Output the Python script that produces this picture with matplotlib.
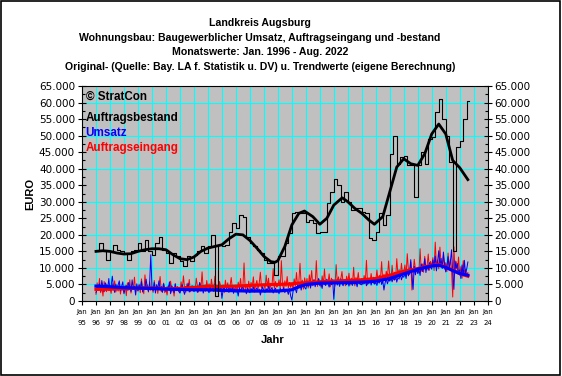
import numpy as np
import matplotlib
matplotlib.use("Agg")
import matplotlib.pyplot as plt
from matplotlib.patches import Rectangle
from matplotlib.ticker import FuncFormatter, MultipleLocator

# Auftragsbestand, quarterly values (1996 Q1 .. 2022 Q3)
bestand_q = [
    15500, 17500, 15000, 12500,   # 1996
    15000, 17000, 15500, 15000,   # 1997
    14500, 12500, 15000, 15500,   # 1998
    17500, 15000, 18500, 15000,   # 1999
    14000, 17500, 19500, 15500,   # 2000
    14500, 11500, 14500, 13500,   # 2001
    12000, 10500, 13500, 12000,   # 2002
    14000, 15000, 16500, 14500,   # 2003
    16500, 20000, 1500, 17000,    # 2004
    16500, 17000, 21000, 23500,   # 2005
    22000, 26000, 25500, 19500,   # 2006
    17500, 16500, 15500, 14500,   # 2007
    12500, 11500, 11500, 8000,    # 2008
    13500, 13500, 17500, 20500,   # 2009
    26500, 27000, 26500, 26500,   # 2010
    24000, 24500, 23500, 20500,   # 2011
    21000, 21000, 29500, 33000,   # 2012
    37000, 35000, 30000, 33000,   # 2013
    30000, 27500, 28000, 28000,   # 2014
    27000, 26500, 19000, 18500,   # 2015
    21000, 26500, 23000, 26000,   # 2016
    44500, 50000, 41500, 43500,   # 2017
    43700, 41000, 41000, 31500,   # 2018
    41000, 45000, 41500, 49000,   # 2019
    49500, 57000, 61000, 55000,   # 2020
    50000, 42000, 15000, 46500,   # 2021
    48500, 55000, 60500,          # 2022
]

# Trend Auftragsbestand (time in years, value)
bestand_trend_t = [1996.0, 1996.5, 1997.0, 1997.5, 1998.0, 1998.5, 1999.0, 1999.5,
                   2000.0, 2000.5, 2001.0, 2001.5, 2002.0, 2002.5, 2003.0, 2003.5,
                   2004.0, 2004.5, 2005.0, 2005.5, 2006.0, 2006.5, 2007.0, 2007.5,
                   2008.0, 2008.5, 2008.8, 2009.0, 2009.5, 2010.0, 2010.5, 2010.9,
                   2011.5, 2012.0, 2012.5, 2013.0, 2013.6, 2014.0, 2014.5, 2015.0,
                   2015.5, 2015.9, 2016.5, 2017.0, 2017.5, 2018.0, 2018.5, 2019.0,
                   2019.5, 2020.0, 2020.5, 2021.0, 2021.5, 2022.0, 2022.58]
bestand_trend_v = [15000, 15200, 15000, 14500, 14200, 14300, 15000, 15500,
                   15800, 15800, 15500, 14000, 12800, 12500, 13300, 15000,
                   16000, 16500, 17000, 18800, 20200, 20000, 18300, 16000,
                   13500, 11900, 11700, 12200, 16500, 23000, 26500, 27200,
                   25500, 23200, 25000, 29000, 31200, 30000, 28000, 26500,
                   24500, 23200, 25500, 33000, 40500, 43000, 41500, 41000,
                   44500, 50500, 53500, 50500, 42500, 40300, 36700]

# Umsatz, monthly values (Jan 1996 .. Aug 2022)
umsatz = [
    2500, 3800, 4500, 5200, 3000, 6200, 4100, 2800, 5500, 4800, 3600, 6800,
    3200, 4600, 7500, 4200, 2600, 5100, 3800, 4900, 6100, 3100, 4400, 5800,
    2200, 3900, 4700, 3300, 5600, 4200, 2900, 6400, 3700, 4500, 1800, 5200,
    3100, 4800, 3600, 5900, 2700, 4300, 3500, 6600, 4100, 2900, 5300, 14000,
    4200, 3100, 5600, 2400, 4700, 3900, 6100, 3300, 4400, 2600, 5200, 3700,
    2900, 4300, 3500, 5800, 2200, 4600, 3800, 2500, 5100, 3400, 4100, 3000,
    2400, 3700, 4900, 3100, 2000, 4400, 3300, 5400, 2700, 3900, 3200, 4600,
    2800, 3500, 4200, 2600, 3900, 5600, 3000, 4300, 2400, 3700, 4800, 3400,
    3100, 2500, 4600, 3300, 3800, 2900, 5200, 3500, 4100, 2700, 3600, 4400,
    800, 3200, 4500, 2900, 3600, 4800, 2600, 3900, 3300, 4200, 2300, 3700,
    2700, 3400, 1500, 4100, 3000, 3700, 4600, 2800, 3500, 2200, 3900, 3200,
    2500, 3800, 3100, 4400, 2700, 3300, 4000, 2900, 3600, 1800, 3400, 4200,
    3000, 2600, 3700, 3200, 4500, 2800, 3500, 4100, 2400, 3300, 3900, 2700,
    3400, 2200, 3800, 2900, 3300, 4000, 2500, 3600, 3100, 2000, 3700, 1500,
    300, 2800, 4200, 3600, 2500, 4600, 3900, 5200, 3300, 4800, 5500, 4100,
    3600, 5200, 4400, 6100, 3900, 5700, 4800, 6500, 4300, 5900, 5000, 6800,
    4600, 5400, 3800, 6200, 5100, 4700, 6600, 5300, 4200, 5800, 4900, 6400,
    500, 5500, 6300, 4800, 5900, 4400, 6700, 5200, 4600, 6100, 5400, 4900,
    5800, 4500, 6000, 5300, 4700, 6500, 5100, 5700, 4300, 6200, 5600, 5000,
    4900, 5900, 5200, 6400, 4600, 5800, 5300, 6800, 4800, 6000, 5500, 5100,
    5600, 4700, 6300, 5400, 6900, 5000, 6100, 3300, 5500, 6600, 5200, 6400,
    6000, 7400, 5800, 6900, 6300, 7800, 5700, 7100, 6600, 8200, 6400, 7500,
    7200, 8400, 6800, 9200, 7600, 8800, 12500, 7400, 3500, 10500, 7900, 9800,
    8300, 9600, 7700, 11200, 8900, 10100, 12800, 8600, 10700, 9300, 11600, 10200,
    9600, 12400, 10300, 13600, 9100, 11800, 15200, 10400, 12900, 9800, 14800, 11200,
    8800, 10600, 13400, 9500, 11900, 15500, 8400, 3500, 12100, 9900, 11300, 8600,
    9400, 6800, 10900, 7600, 12300, 8200, 9700, 11800,
]

# Auftragseingang, monthly values (Jan 1996 .. Aug 2022)
eingang = [
    2000, 5500, 3200, 6800, 2500, 4200, 1500, 5900, 3600, 2800, 4900, 3100,
    3900, 2300, 5200, 3400, 6100, 2700, 4500, 3000, 5600, 2100, 4300, 3500,
    2600, 4800, 1600, 5500, 3300, 6400, 2400, 4100, 3700, 7200, 2900, 4600,
    3000, 5100, 2500, 6700, 3800, 2200, 7900, 3500, 4900, 2700, 5800, 3200,
    4400, 2600, 6200, 3100, 5000, 2300, 4600, 7400, 2800, 3900, 5400, 2500,
    3600, 1800, 4700, 3300, 6000, 2700, 4200, 1500, 5300, 3100, 4400, 2900,
    2500, 5800, 3400, 7600, 3800, 2600, 5200, 3200, 6500, 2800, 4600, 3700,
    4000, 3100, 6900, 4500, 2700, 5500, 3900, 8800, 3400, 4800, 2900, 6200,
    3600, 5200, 2800, 6600, 4100, 3300, 7500, 3800, 4700, 2900, 5900, 4300,
    3200, 4900, 2500, 6300, 3700, 5500, 2900, 4600, 7100, 3500, 4200, 2800,
    4800, 2600, 5700, 3900, 6800, 3300, 4400, 11500, 3600, 5100, 2800, 6000,
    3400, 5600, 4100, 7300, 3000, 4900, 6200, 3700, 5300, 8700, 3900, 4500,
    5100, 3600, 7800, 4300, 6900, 3200, 5400, 4700, 9800, 3800, 5900, 4200,
    4600, 6400, 3700, 12200, 4900, 3500, 6100, 4400, 7400, 3900, 5600, 4100,
    5300, 3800, 6700, 4500, 8600, 4000, 5800, 11400, 4700, 6300, 3600, 7000,
    4900, 6800, 3900, 7900, 5400, 9200, 4600, 6100, 5000, 12200, 4400, 6600,
    5800, 4200, 7600, 5100, 9700, 4700, 6400, 5500, 8200, 4300, 6900, 5200,
    6300, 4500, 11000, 5400, 7300, 4900, 6700, 8900, 5200, 6100, 4600, 7500,
    5600, 8400, 4800, 6900, 5300, 10200, 4600, 7100, 5900, 8600, 5100, 6400,
    6800, 5000, 7700, 5700, 12300, 4900, 6500, 5400, 8300, 6000, 7200, 5300,
    6200, 9400, 5500, 7800, 6600, 11900, 5800, 8100, 6400, 9000, 7000, 12100,
    7500, 6100, 10800, 7100, 8700, 6500, 12800, 7900, 9500, 7300, 11400, 8200,
    8800, 10900, 7600, 14300, 9200, 8000, 11700, 3300, 8500, 12600, 9600, 8900,
    9900, 8400, 15800, 9000, 11200, 8700, 13500, 9400, 10600, 14200, 9300, 12000,
    10500, 13100, 9200, 17800, 10800, 12400, 9700, 16300, 11300, 10100, 13800, 9600,
    11600, 8900, 14500, 10200, 12700, 9400, 1200, 16400, 8700, 11900, 9100, 13300,
    7800, 10400, 6900, 12200, 8300, 9600, 7400, 8600,
]

# Trends Umsatz / Auftragseingang
trend_t = [1996, 1997, 1998, 1999, 2000, 2001, 2002, 2003, 2004, 2005, 2006,
           2007, 2008, 2009, 2010, 2010.5, 2011, 2012, 2013, 2014, 2015, 2016,
           2017, 2018, 2019, 2020, 2020.5, 2021, 2021.5, 2022, 2022.58]
umsatz_trend = [4500, 4300, 4000, 3900, 3800, 3600, 3500, 3400, 3400, 3200, 3100,
                3000, 3000, 3000, 3400, 4300, 5000, 5400, 5500, 5600, 5700, 6000,
                6800, 8200, 9600, 10600, 10800, 10200, 9200, 8300, 7800]
eingang_trend = [3500, 3600, 3700, 3900, 3900, 3700, 3800, 4100, 4500, 4400, 4500,
                 4700, 4900, 5000, 5200, 5400, 5500, 5800, 6000, 6200, 6400, 6800,
                 7800, 9000, 9800, 10800, 11000, 10300, 9300, 8300, 7500]

years = list(range(1995, 2025))
year_labels = [f"Jan\n{y % 100:02d}" for y in years]

title = ("Landkreis Augsburg\n"
         "Wohnungsbau: Baugewerblicher Umsatz, Auftragseingang und -bestand\n"
         "Monatswerte: Jan. 1996 - Aug. 2022\n"
         "Original- (Quelle: Bay. LA f. Statistik u. DV) u. Trendwerte (eigene Berechnung)")

CYAN = "#00FFFF"
BLUE = "#0000FF"
RED = "#FF0000"

fig = plt.figure(figsize=(5.62, 3.76), dpi=100)
ax = fig.add_axes([82 / 562, 1 - 301 / 376, 405.7 / 562, 215 / 376])
ax.set_facecolor("#C0C0C0")

t_month = 1996 + np.arange(len(umsatz)) / 12
t_quarter = 1996 + np.arange(len(bestand_q)) / 4

ax.plot(t_month, eingang, color=RED, lw=0.7, zorder=3)
ax.plot(t_month, umsatz, color=BLUE, lw=0.7, zorder=3)
ax.plot(trend_t, eingang_trend, color=RED, lw=2.3, zorder=4)
ax.plot(trend_t, umsatz_trend, color=BLUE, lw=2.3, zorder=5)
ax.plot(np.append(t_quarter, 1996 + len(umsatz) / 12),
        bestand_q + [bestand_q[-1]],
        color="black", lw=0.8, drawstyle="steps-post", zorder=6)
ax.plot(bestand_trend_t, bestand_trend_v, color="black", lw=2.0, zorder=7)

# grid
for y in years:
    ax.axvline(y, color=CYAN, lw=0.8, zorder=1)
for v in [5000, 10000, 20000, 30000, 40000, 50000, 60000]:
    ax.axhline(v, color=CYAN, lw=0.8, zorder=1)

ax.set_xlim(1995, 2024)
ax.set_ylim(0, 65000)
ax.set_xticks(years)
ax.set_xticklabels(year_labels, fontsize=5, family="DejaVu Sans", linespacing=1.9)
ax.yaxis.set_major_locator(MultipleLocator(5000))
ax.yaxis.set_minor_locator(MultipleLocator(2500))
ax.yaxis.set_major_formatter(FuncFormatter(lambda v, p: f"{int(v):,}".replace(",", ".")))
ax.tick_params(axis="y", which="major", direction="inout", length=6, width=0.8,
               labelsize=7.5, right=True, labelright=True, pad=2)
ax.tick_params(axis="y", which="minor", direction="in", length=2.5, width=0.8, right=True)
ax.tick_params(axis="x", direction="out", length=3, width=0.8, pad=3)
for s in ax.spines.values():
    s.set_linewidth(0.8)

ax.set_xlabel("Jahr", fontsize=8, fontweight="bold", family="Liberation Sans")
ax.xaxis.set_label_coords(0.471, -0.16)
ax.set_ylabel("EURO", fontsize=8, fontweight="bold", family="Liberation Sans", labelpad=3)

# in-plot legend texts
kw = dict(transform=ax.transAxes, fontsize=8.4, fontweight="bold",
          family="Liberation Sans", va="center", ha="left", zorder=10)
ax.text(0.009, 0.949, "\u00a9 StratCon", color="black", **kw)
ax.text(0.009, 0.853, "Auftragsbestand", color="black", **kw)
ax.text(0.009, 0.782, "Umsatz", color=BLUE, **kw)
ax.text(0.009, 0.712, "Auftragseingang", color=RED, **kw)

fig.text(260 / 562, 1 - 45 / 376, title, ha="center", va="center", fontsize=7.6,
         fontweight="bold", family="Liberation Sans", linespacing=1.55)

fig.patches.append(Rectangle((0.5 / 562, 1 - 374.5 / 376), 559.5 / 562, 374 / 376,
                             transform=fig.transFigure, fill=False,
                             edgecolor="black", lw=1.2))

fig.savefig("out.png", dpi=100)
